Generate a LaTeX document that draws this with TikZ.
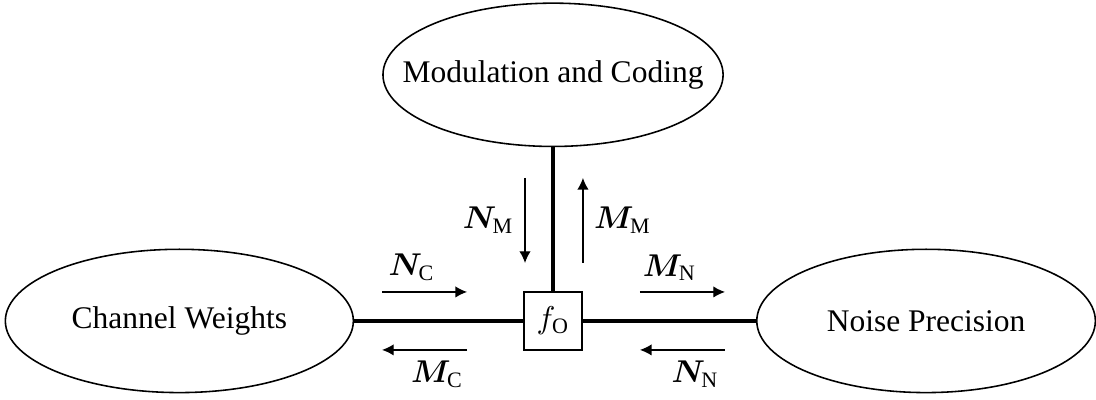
\documentclass[tikz,border=0pt]{standalone}
\usepackage{amsmath}
\usepackage{bm}
\usepackage{fontspec}
\setmainfont{Liberation Serif}
\usetikzlibrary{positioning,shapes.geometric,arrows.meta}
\tikzset{
ve/.style={ellipse,draw,line width=0.5pt,minimum width=108pt,minimum height=45.5pt,inner sep=0pt},
fa/.style={rectangle,draw,line width=0.5pt,minimum size=18.4pt,inner sep=0pt},
ed/.style={line width=1.1pt},
msg/.style={-{Latex[length=3.7pt,width=3.6pt]},line width=0.4pt},
el/.style={font=\normalsize},
}
\begin{document}
\begin{tikzpicture}[node distance=54pt]
	\useasboundingbox (-175.6pt,-24.8pt) rectangle (172.4pt,101.9pt);
	\node[fa] (fo) {$f_{\mathrm{O}}$};
	\node[ve,minimum width=110.5pt,left=53.7pt of fo] (cw) {\makebox[0pt]{Channel Weights}};
	\node[ve,minimum width=107.5pt,right=55pt of fo] (np) {\makebox[0pt]{Noise Precision}};
	\node[ve,above=45.7pt of fo] (mc) {\makebox[0pt]{Modulation and Coding}};

	% message ends
	\coordinate (wa) at (-54.3pt,9.2pt);
	\coordinate (wb) at (-27.3pt,9.2pt);
	\coordinate (wc) at (-54.3pt,-9.2pt);
	\coordinate (wd) at (-27.3pt,-9.2pt);
	\coordinate (pa) at (27.6pt,9.2pt);
	\coordinate (pb) at (54.6pt,9.2pt);
	\coordinate (pc) at (27.6pt,-9.2pt);
	\coordinate (pd) at (54.6pt,-9.2pt);
	\coordinate (ma) at (-8.9pt,45.4pt);
	\coordinate (mb) at (-8.9pt,18.4pt);
	\coordinate (md) at (9.5pt,18.4pt);
	\coordinate (me) at (9.5pt,45.4pt);

	\draw[ed] (cw) -- (fo);
	\draw[ed] (fo) -- (np);
	\draw[ed] (mc) -- (fo);

	\draw[msg] (wa) -- node[el,above,pos=0.35] {$\bm{N}_{\mathrm{C}}$} (wb);
	\draw[msg] (wd) -- node[el,below,pos=0.35] {$\bm{M}_{\mathrm{C}}$} (wc);
	\draw[msg] (pa) -- node[el,above,pos=0.35] {$\bm{M}_{\mathrm{N}}$} (pb);
	\draw[msg] (pd) -- node[el,below,pos=0.35] {$\bm{N}_{\mathrm{N}}$} (pc);
	\draw[msg] (ma) -- node[el,left] {$\bm{N}_{\mathrm{M}}$} (mb);
	\draw[msg] (md) -- node[el,right] {$\bm{M}_{\mathrm{M}}$} (me);
\end{tikzpicture}
\end{document}
